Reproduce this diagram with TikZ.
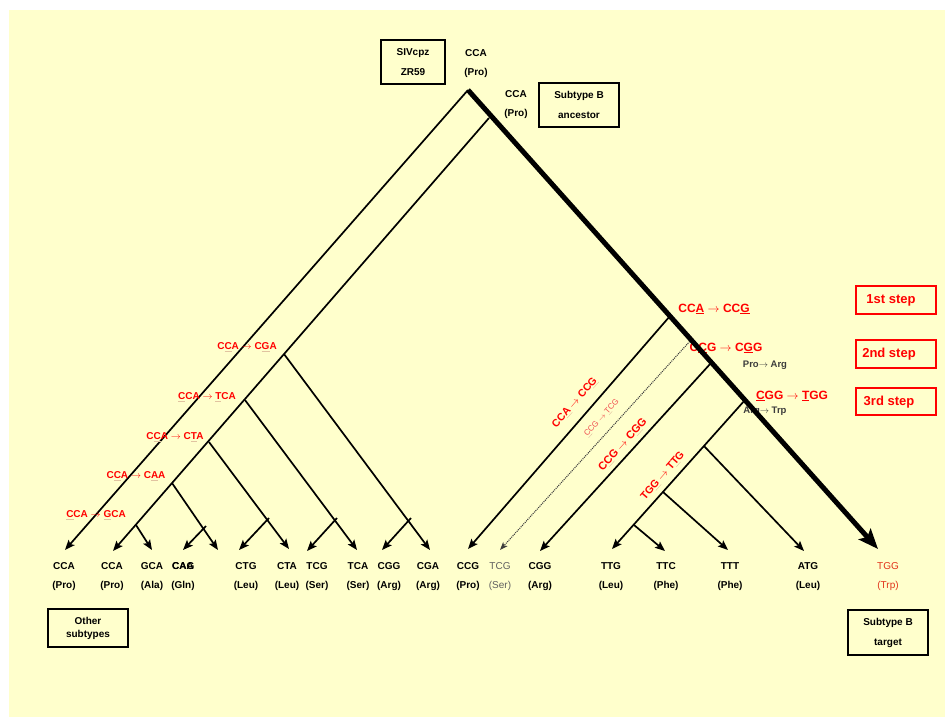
\documentclass[tikz,border=0pt]{standalone}
\usepackage{fontspec}
\setmainfont{Liberation Sans}
\usetikzlibrary{arrows.meta}
\definecolor{bgyellow}{RGB}{255,255,204}
\definecolor{ulcol}{RGB}{225,195,160}
\definecolor{darkgr}{RGB}{60,60,60}
\definecolor{midgr}{RGB}{95,95,95}
\definecolor{trpred}{RGB}{225,50,25}
\definecolor{lightred}{RGB}{240,80,80}
\newcommand{\fu}[1]{\rlap{\color{ulcol}\underline{\phantom{#1}}}#1}
\newcommand{\rarr}{$\rightarrow$}
\begin{document}
\begin{tikzpicture}[x=1pt,y=-1pt,
  every node/.style={inner sep=0pt, font=\bfseries\fontsize{10}{12}\selectfont},
  branch/.style={line width=1.7pt, -{Stealth[length=10pt,width=8pt,inset=2pt]}},
  mainbr/.style={line width=5pt, -{Stealth[length=20pt,width=16pt,inset=4pt]}},
  dotbr/.style={line width=1.1pt, darkgr, dash pattern=on 1pt off 1pt, -{Stealth[length=8pt,width=6pt,inset=2pt]}},
  blackbox/.style={draw=black, line width=1.8pt, align=center},
  redbox/.style={draw=red, line width=1.8pt, minimum width=80pt, minimum height=28pt},
  mut/.style={text=red},
  bigmut/.style={text=red, font=\bfseries\fontsize{12}{14}\selectfont},
  chg/.style={text=darkgr, font=\bfseries\fontsize{9.5}{11}\selectfont},
  steptxt/.style={text=red, font=\bfseries\fontsize{13}{15}\selectfont},
  cod/.style={anchor=base},
]
\useasboundingbox (0,0) rectangle (945,717);
\fill[white] (0,0) rectangle (945,717);
\fill[bgyellow] (9,10) rectangle (945,717);

% ---------- coordinates ----------
\coordinate (R) at (468,90);
\coordinate (J) at (489,118);
\coordinate (tL1) at (65,550);
\coordinate (tL2) at (113,551);
\coordinate (b1) at (284,354);
\coordinate (b2) at (245,400);
\coordinate (b3) at (209,442);
\coordinate (b4) at (172,483);
\coordinate (b5) at (136,525);
\coordinate (tCGA) at (430,550);
\coordinate (tTCA) at (357,550);
\coordinate (tCTA) at (289,549);
\coordinate (tX) at (218,550);
\coordinate (tGCA) at (152,550);
\coordinate (s1) at (411,518); \coordinate (tCGG) at (382,550);
\coordinate (s2) at (337,518); \coordinate (tTCG) at (307,551);
\coordinate (s3) at (269,518); \coordinate (tCTG) at (239,550);
\coordinate (s4) at (206,526); \coordinate (tCAG) at (183,550);
\coordinate (tT) at (878,549);
\coordinate (K1) at (670,316); \coordinate (tCCG) at (468,549);
\coordinate (D) at (691,340);  \coordinate (tTCGr) at (500,550);
\coordinate (K2) at (711,363); \coordinate (tCGGr) at (540,551);
\coordinate (K3) at (745,400); \coordinate (tTTG) at (612,549);
\coordinate (m1) at (704,446); \coordinate (tATG) at (804,551);
\coordinate (m2) at (663,492); \coordinate (tTTT) at (728,550);
\coordinate (m3) at (634,525); \coordinate (tTTC) at (665,551);

% ---------- left subtree ----------
\draw[branch] (R) -- (tL1);
\draw[branch] (J) -- (tL2);
\draw[branch] (b1) -- (tCGA);
\draw[branch] (b2) -- (tTCA);
\draw[branch] (b3) -- (tCTA);
\draw[branch] (b4) -- (tX);
\draw[branch] (b5) -- (tGCA);
\draw[branch] (s1) -- (tCGG);
\draw[branch] (s2) -- (tTCG);
\draw[branch] (s3) -- (tCTG);
\draw[branch] (s4) -- (tCAG);

% ---------- right subtree ----------
\draw[branch] (K1) -- (tCCG);
\draw[dotbr] (D) -- (tTCGr);
\draw[branch] (K2) -- (tCGGr);
\draw[branch] (K3) -- (tTTG);
\draw[branch] (m1) -- (tATG);
\draw[branch] (m2) -- (tTTT);
\draw[branch] (m3) -- (tTTC);

% ---------- mutation labels, left ----------
\node[mut] (mCGA) at (247,347) {C\fu{C}A \rarr{} C\fu{G}A};
\node[mut] (mTCA) at (207,397) {\fu{C}CA \rarr{} \fu{T}CA};
\node[mut] (mCTA) at (175,437) {C\fu{C}A \rarr{} C\fu{T}A};
\node[mut] (mCAA) at (136,476) {C\fu{C}A \rarr{} C\fu{A}A};
\node[mut] (mGCA) at (96,515) {\fu{C}CA \rarr{} \fu{G}CA};

% ---------- rotated labels, right ----------
\node[mut, rotate=49, font=\bfseries\fontsize{10.5}{12}\selectfont] (rCCG) at (575,403) {CC\fu{A} \rarr{} CC\fu{G}};
\node[text=lightred, rotate=48, font=\fontsize{8}{9}\selectfont] (rTCG) at (602,418) {\fu{C}CG \rarr{} \fu{T}CG};
\node[mut, rotate=48, font=\bfseries\fontsize{11}{13}\selectfont] (rCGG) at (623,445) {C\fu{C}G \rarr{} C\fu{G}G};
\node[mut, rotate=49, font=\bfseries\fontsize{10.5}{12}\selectfont] (rTTG) at (663,476) {TG\fu{G} \rarr{} T\fu{T}G};

% ---------- step labels on main branch ----------
\node[bigmut] (mu1) at (714,309) {CC\underline{A} \rarr{} CC\underline{G}};
\node[bigmut] (mu2) at (726,348) {C\underline{C}G \rarr{} C\underline{G}G};
\node[chg] (pa) at (765,365) {Pro\rarr{} Arg};
\node[bigmut] (mu3) at (792,396) {\underline{C}GG \rarr{} \underline{T}GG};
\node[chg] (at) at (765,411) {Arg\rarr{} Trp};

% ---------- main thick branch ----------
\draw[mainbr] (R) -- (tT);

% ---------- top ----------
\node[blackbox, minimum width=64pt, minimum height=44pt, font=\bfseries\fontsize{10}{20}\selectfont] (siv) at (413,62) {SIVcpz\\ZR59};
\node (cca0) at (476,53) {CCA};
\node (pro0) at (476,73) {(Pro)};
\node (cca1) at (516,94) {CCA};
\node (pro1) at (516,114) {(Pro)};
\node[blackbox, minimum width=80pt, minimum height=44pt, font=\bfseries\fontsize{10}{20}\selectfont] (anc) at (579,105) {Subtype B\\ancestor};

% ---------- step boxes ----------
\node[redbox] (st1) at (896,300) {};
\node[steptxt] (st1t) at (891,300) {1st step};
\node[redbox] (st2) at (896,354) {};
\node[steptxt] (st2t) at (889,354) {2nd step};
\node[redbox, minimum height=27pt] (st3) at (896,401.5) {};
\node[steptxt] (st3t) at (889,402) {3rd step};

% ---------- leaf labels ----------
\foreach \x/\c/\a [count=\i] in {64/CCA/Pro, 112/CCA/Pro, 152/GCA/Ala, 246/CTG/Leu, 287/CTA/Leu, 317/TCG/Ser, 358/TCA/Ser, 389/CGG/Arg, 428/CGA/Arg, 468/CCG/Pro, 540/CGG/Arg, 611/TTG/Leu, 666/TTC/Phe, 730/TTT/Phe, 808/ATG/Leu}{
  \node[cod] (c\i) at (\x,569) {\c};
  \node[cod] (a\i) at (\x,588) {(\a)};
}
\node[anchor=base west] (cCAA) at (172,569) {CAA};
\node[anchor=base west] (cCAG) at (172,569) {CAG};
\node[cod] (aGln) at (183,588) {(Gln)};
\node[cod, text=midgr, font=\fontsize{10}{12}\selectfont] (cTCGg) at (500,569) {TCG};
\node[cod, text=midgr, font=\fontsize{10}{12}\selectfont] (aSer) at (500,588) {(Ser)};
\node[cod, text=trpred, font=\fontsize{10}{12}\selectfont] (cTGG) at (888,569) {TGG};
\node[cod, text=trpred, font=\fontsize{10}{12}\selectfont] (aTrp) at (888,588) {(Trp)};

% ---------- bottom boxes ----------
\node[blackbox, minimum width=80pt, minimum height=38pt, font=\bfseries\fontsize{10}{13}\selectfont] (oth) at (88,628) {Other\\subtypes};
\node[blackbox, minimum width=80pt, minimum height=45pt, font=\bfseries\fontsize{10}{20}\selectfont] (tgt) at (888,632.5) {Subtype B\\target};
\end{tikzpicture}
\end{document}
